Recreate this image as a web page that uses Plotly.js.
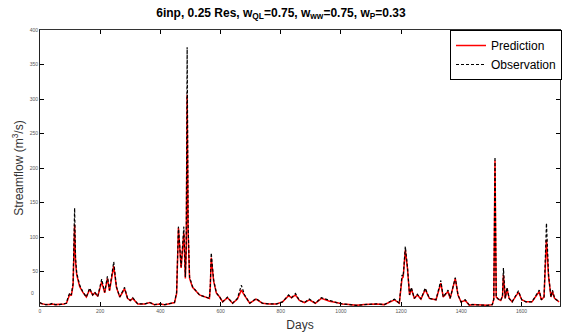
<!DOCTYPE html>
<html>
<head>
<meta charset="utf-8">
<script src="https://cdn.plot.ly/plotly-3.0.1.min.js"></script>
<style>html,body{margin:0;padding:0;background:#fff;}#chart{width:562px;height:334px;}</style>
</head>
<body>
<div id="chart"></div>
<script>
const days = [0,8,19,30,42,50,65,80,88,93,99,104,110,115,118,122,132,142,154,165,175,182,192,205,215,224,231,245,250,254,265,281,291,300,308,325,348,365,380,398,415,431,447,454,460,469,474,478,483,486,489,492,497,507,530,553,563,566,569,577,586,597,607,623,640,656,669,680,697,718,739,763,786,806,826,836,849,862,879,895,915,935,962,985,1005,1028,1051,1078,1118,1144,1178,1194,1203,1207,1214,1221,1228,1234,1244,1254,1266,1280,1294,1316,1332,1340,1349,1356,1363,1380,1389,1399,1413,1427,1436,1460,1486,1503,1508,1512,1516,1523,1531,1537,1540,1546,1552,1559,1569,1590,1601,1615,1635,1659,1666,1675,1683,1690,1698,1703,1710,1725];
const observation = [5,3,2,2,4,2,2,3,4,13,19,16,33,142,70,48,30,21,13,26,16,20,14,39,20,43,23,64,40,28,13,27,11,8,12,3,3,5,2,3,2,3,5,20,115,57,90,115,42,90,375,120,42,28,16,13,11,30,77,38,19,13,6,13,4,11,30,16,4,11,4,3,3,6,16,12,18,8,5,10,4,12,8,5,3,2,1,2,3,2,10,4,45,43,86,57,16,27,11,17,10,26,11,9,37,13,18,23,11,41,16,6,9,1,2,1,1,2,10,216,13,10,8,15,55,11,27,11,6,22,9,6,6,23,9,13,120,45,13,23,11,6];
const prediction = [4,3,2,2,3,2,2,3,4,11,17,15,30,118,65,45,28,20,13,24,16,19,14,35,19,40,22,58,38,27,13,25,11,8,11,3,3,5,2,3,2,3,5,18,113,55,80,106,40,80,306,110,40,27,16,13,11,28,70,36,19,13,6,12,4,10,23,15,4,10,4,3,3,6,15,12,16,8,5,9,4,11,7,5,3,2,1,2,3,2,9,4,40,42,81,55,16,25,11,16,10,24,11,9,33,13,17,21,11,40,16,6,8,1,2,1,1,2,10,211,13,10,8,14,45,11,25,11,6,20,9,6,6,21,9,13,96,43,13,21,11,6];
const xTicks = [0,200,400,600,800,1000,1200,1400,1600];
const yTicks = [50,100,150,200,250,300,350,400];

const font = 'Liberation Sans, Arial, sans-serif';
const traces = [
  {x: days, y: prediction, type: 'scatter', mode: 'lines', name: 'Prediction',
   line: {color: '#ff0000', width: 1.5}},
  {x: days, y: observation, type: 'scatter', mode: 'lines', name: 'Observation',
   line: {color: '#000000', width: 1.2, dash: '3px,2px'}}
];
const layout = {
  width: 562, height: 334,
  margin: {l: 40, r: 1, t: 30, b: 28},
  paper_bgcolor: '#fff', plot_bgcolor: '#fff',
  font: {family: font, color: '#000'},
  title: {text: '<b>6inp, 0.25 Res, w<sub>QL</sub>=0.75, w<sub>ww</sub>=0.75, w<sub>P</sub>=0.33</b>',
          font: {size: 12, family: font, color: '#000'}, x: 0.5, xanchor: 'center', y: 0.962, yanchor: 'middle'},
  xaxis: {range: [0, 1728], tickvals: xTicks, ticktext: xTicks.map(String),
          ticks: 'inside', ticklen: 4, tickcolor: '#000', mirror: 'ticks',
          showline: true, linecolor: '#333', linewidth: 1, showgrid: false, zeroline: false,
          tickfont: {size: 5, color: '#555'},
          title: {text: 'Days', font: {size: 12, color: '#333'}, standoff: 7}},
  yaxis: {range: [0, 400], tickvals: yTicks, ticktext: yTicks.map(String),
          ticks: 'inside', ticklen: 4, tickcolor: '#000', mirror: 'ticks',
          showline: true, linecolor: '#222', linewidth: 1, showgrid: false, zeroline: false,
          tickfont: {size: 5, color: '#555'},
          title: {text: 'Streamflow (m<sup>3</sup>/s)', font: {size: 12, color: '#333'}, standoff: 3}},
  annotations: [{text: '0', xref: 'paper', yref: 'y', x: 0, y: 18.5, xanchor: 'right', xshift: -4,
                 showarrow: false, font: {size: 5, color: '#555'}}],
  legend: {x: 1.002, xanchor: 'right', y: 1, yanchor: 'top', bgcolor: '#fff',
           bordercolor: '#000', borderwidth: 1, font: {size: 12, color: '#000'},
           itemwidth: 30, tracegroupgap: 0}
};
Plotly.newPlot('chart', traces, layout, {displayModeBar: false, staticPlot: true});
</script>
</body>
</html>
